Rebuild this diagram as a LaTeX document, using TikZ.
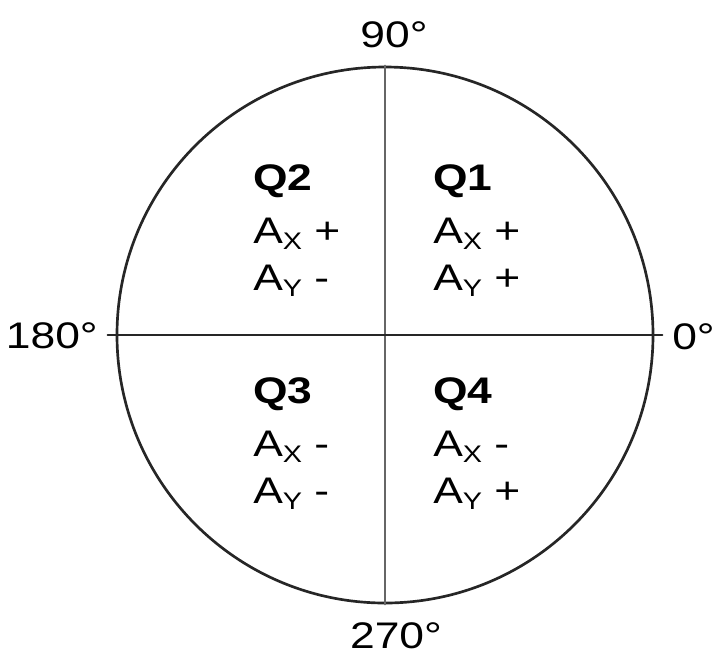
\documentclass[tikz,border=0pt]{standalone}
\usepackage{fontspec}
\setmainfont[FakeStretch=1.2]{Liberation Sans}
\newcommand{\subax}[1]{\raisebox{-4.5pt}{\fontsize{18}{18}\selectfont #1}}
\begin{document}
\begin{tikzpicture}[x=0.75pt,y=-0.75pt,line join=round,line cap=round,
    deg/.style={font=\fontsize{27.75}{33}\selectfont,inner sep=0pt},
    quad/.style={deg,align=left,anchor=base west,font=\fontsize{27.75}{35.25}\selectfont}]
    \useasboundingbox (0,0) rectangle (716,654);
    \node[circle,draw=black!85,line width=2pt,minimum size=402pt,inner sep=0pt] (ring) at (385,335) {};
    \draw[black!60,line width=1.5pt] (ring.north)--(ring.south);
    \draw[black!85,line width=1.5pt] ([xshift=-6pt]ring.west)--([xshift=6pt]ring.east);
    \node[deg,anchor=base] (n90) at (394,47) {90°};
    \node[deg,anchor=base east] (n180) at (98,348) {180°};
    \node[deg,anchor=base west] (n0) at (672,349) {0°};
    \node[deg,anchor=base] (n270) at (396,648) {270°};
    % anchor sits on the last line
    \node[quad] (q2) at (253,290) {\textbf{Q2}\\[4.5pt]A\subax{X} +\\A\subax{Y} -};
    \node[quad] (q1) at (433,290) {\textbf{Q1}\\[4.5pt]A\subax{X} +\\A\subax{Y} +};
    \node[quad] (q3) at (253,503) {\textbf{Q3}\\[4.5pt]A\subax{X} -\\A\subax{Y} -};
    \node[quad] (q4) at (433,503) {\textbf{Q4}\\[4.5pt]A\subax{X} -\\A\subax{Y} +};
\end{tikzpicture}
\end{document}
